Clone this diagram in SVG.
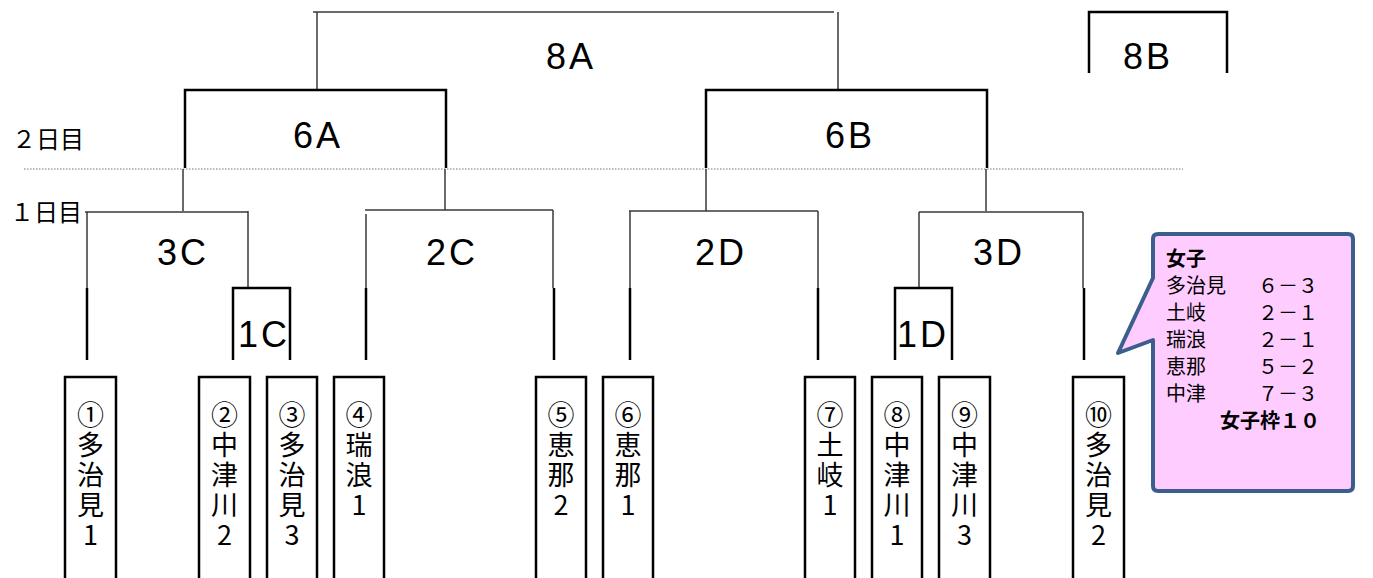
<svg xmlns="http://www.w3.org/2000/svg" width="1373" height="578" viewBox="0 0 1373 578">
<style>
.thin{stroke:#3a3a3a;stroke-width:1.5;fill:none}
.thick{stroke:#000;stroke-width:2.5;fill:none}
.dot{stroke:#777;stroke-width:1.2;stroke-dasharray:1.5 1.5;fill:none}
.team{stroke:#000;stroke-width:2.5;fill:#fff}
.lbl{font-family:"Liberation Sans",Arial,sans-serif;font-size:36px;fill:#000;text-anchor:middle;letter-spacing:3px}
.day{font-family:"Noto Sans CJK JP",sans-serif;font-size:24px;fill:#000}
.tt{font-family:"Noto Sans CJK JP",sans-serif;font-size:27px;fill:#000;writing-mode:vertical-rl;text-orientation:upright;letter-spacing:3px}
.ct{font-family:"Noto Sans CJK JP",sans-serif;font-size:20px;fill:#000}
.b{font-weight:bold}
</style>
<rect width="1373" height="578" fill="#fff"/>
<line class="dot" x1="24" y1="169" x2="1183" y2="169"/>
<g id="connectors">
  <path class="thin" d="M313,12 H834 M317,12 V90 M838,12 V90"/>
  <path class="thick" d="M185,168 V90 H446 V168"/>
  <path class="thick" d="M706,168 V90 H987 V168"/>
  <path class="thin" d="M183,169 V211 M445,169 V210 M706,169 V211 M986,169 V211"/>
  <path class="thick" d="M1089,73 V12 H1227 V73"/>
  <path class="thin" d="M85,212 H248 M87,212 V288 M248,211 V288"/>
  <path class="thin" d="M365,210 H553 M366,214 V288 M553,210 V288"/>
  <path class="thin" d="M629,211 H818 M630,211 V288 M818,211 V288"/>
  <path class="thin" d="M919,212 H1083 M919,212 V288 M1083,212 V288"/>
  <path class="thick" d="M87,288 V360 M366,288 V360 M554,288 V360 M630,288 V360 M818,288 V360 M1084,288 V360"/>
  <path class="thick" d="M233,360 V288 H290 V360"/>
  <path class="thick" d="M895,360 V288 H952 V360"/>
</g>
<g id="labels">
  <text class="lbl" x="571" y="69">8A</text>
  <text class="lbl" x="1148" y="69">8B</text>
  <text class="lbl" x="318" y="148">6A</text>
  <text class="lbl" x="850" y="148">6B</text>
  <text class="lbl" x="183" y="265">3C</text>
  <text class="lbl" x="452" y="265">2C</text>
  <text class="lbl" x="721" y="265">2D</text>
  <text class="lbl" x="999" y="265">3D</text>
  <text class="lbl" x="264" y="347">1C</text>
  <text class="lbl" x="923" y="347">1D</text>
  <text class="day" x="12" y="148">２日目</text>
  <text class="day" x="10" y="221">１日目</text>
</g>
<g id="team1"><rect class="team" x="65" y="377" width="51" height="215"/><text class="tt" x="90.5" y="401">①多治見1</text></g>
<g id="team2"><rect class="team" x="199" y="377" width="51" height="215"/><text class="tt" x="224.5" y="401">②中津川2</text></g>
<g id="team3"><rect class="team" x="267" y="377" width="50" height="215"/><text class="tt" x="292" y="401">③多治見3</text></g>
<g id="team4"><rect class="team" x="334" y="377" width="50" height="215"/><text class="tt" x="359" y="401">④瑞浪1</text></g>
<g id="team5"><rect class="team" x="536" y="377" width="50" height="215"/><text class="tt" x="561" y="401">⑤恵那2</text></g>
<g id="team6"><rect class="team" x="603" y="377" width="50" height="215"/><text class="tt" x="628" y="401">⑥恵那1</text></g>
<g id="team7"><rect class="team" x="805" y="377" width="50" height="215"/><text class="tt" x="830" y="401">⑦土岐1</text></g>
<g id="team8"><rect class="team" x="872" y="377" width="50" height="215"/><text class="tt" x="897" y="401">⑧中津川1</text></g>
<g id="team9"><rect class="team" x="939" y="377" width="51" height="215"/><text class="tt" x="964.5" y="401">⑨中津川3</text></g>
<g id="team10"><rect class="team" x="1073" y="377" width="51" height="215"/><text class="tt" x="1098.5" y="401">⑩多治見2</text></g>
<g id="callout">
  <path d="M1158,234 H1348 Q1353,234 1353,239 V486 Q1353,491 1348,491 H1158 Q1153,491 1153,486 V340 L1118,353 L1153,278 V239 Q1153,234 1158,234 Z" fill="#FFCCFF" stroke="#3B5E8C" stroke-width="4" stroke-linejoin="round"/>
  <text class="ct"><tspan class="b" x="1166" y="266">女子</tspan><tspan x="1166" y="293">多治見</tspan><tspan x="1258" y="293">６－３</tspan><tspan x="1166" y="320">土岐</tspan><tspan x="1258" y="320">２－１</tspan><tspan x="1166" y="347">瑞浪</tspan><tspan x="1258" y="347">２－１</tspan><tspan x="1166" y="374">恵那</tspan><tspan x="1258" y="374">５－２</tspan><tspan x="1166" y="401">中津</tspan><tspan x="1258" y="401">７－３</tspan><tspan class="b" x="1220" y="428">女子枠１０</tspan></text>
</g>
</svg>
